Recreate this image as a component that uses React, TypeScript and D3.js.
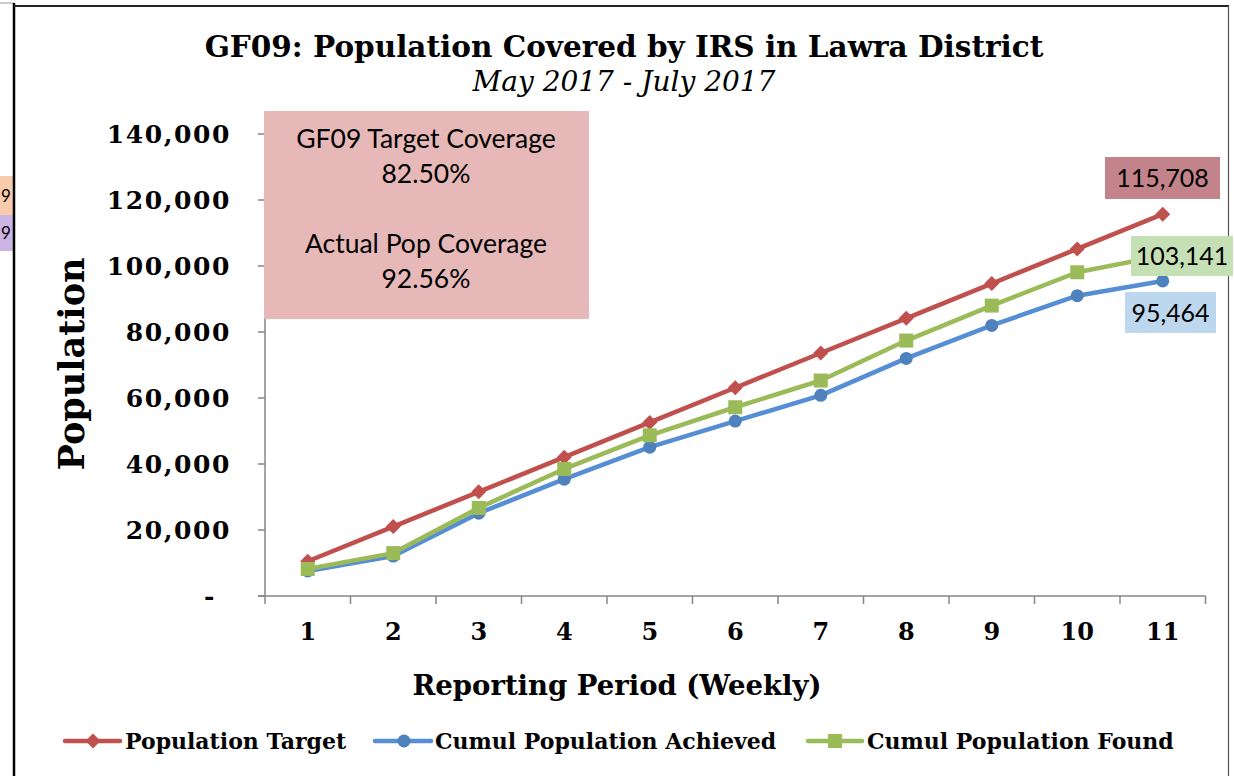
import React from "react";
import * as d3 from "d3";

const categories = ["1", "2", "3", "4", "5", "6", "7", "8", "9", "10", "11"];
const populationTarget = [10519, 21038, 31557, 42076, 52595, 63114, 73632, 84151, 94670, 105189, 115708];
const cumulAchieved = [7600, 12100, 25100, 35400, 45100, 53000, 60800, 72000, 82000, 91000, 95464];
const cumulFound = [8200, 13000, 26700, 38500, 48700, 57200, 65300, 77400, 88000, 98100, 103141];
const yTickValues = [0, 20000, 40000, 60000, 80000, 100000, 120000, 140000];
const seriesNames = ["Population Target", "Cumul Population Achieved", "Cumul Population Found"];
const boxLines = ["GF09 Target Coverage", "82.50%", "", "Actual Pop Coverage", "92.56%"];
const fragmentTexts = ["9", "9"];

const SERIF = "'DejaVu Serif', Georgia, serif";
const SANS = "Lato, 'Open Sans', sans-serif";

const RED = "#C0504D";
const BLUE_LINE = "#558ED5";
const BLUE = "#4F81BD";
const GREEN = "#9BBB59";

function Marker({ kind, x, y, color }: { kind: string; x: number; y: number; color: string }) {
  if (kind === "diamond") {
    const s = 7.5;
    return <path d={`M${x},${y - s}L${x + s},${y}L${x},${y + s}L${x - s},${y}Z`} fill={color} />;
  }
  if (kind === "circle") return <circle cx={x} cy={y} r={6.5} fill={color} />;
  return <rect x={x - 7} y={y - 7} width={14} height={14} fill={color} />;
}

export default function App() {
  const x = d3.scaleBand<string>().domain(categories).range([265, 1205.5]).padding(0);
  const y = d3.scaleLinear().domain([0, 140000]).range([596, 134]);
  const cx = (c: string) => (x(c) as number) + x.bandwidth() / 2;
  const line = d3
    .line<number>()
    .x((_, i) => cx(categories[i]))
    .y((d) => y(d));
  const fmt = d3.format(",");

  const series = [
    { name: seriesNames[0], values: populationTarget, line: RED, marker: RED, kind: "diamond" },
    { name: seriesNames[1], values: cumulAchieved, line: BLUE_LINE, marker: BLUE, kind: "circle" },
    { name: seriesNames[2], values: cumulFound, line: GREEN, marker: GREEN, kind: "square" },
  ];

  const last = categories.length - 1;

  const legend = [
    { x0: 65, x1: 120, mx: 93, tx: 125 },
    { x0: 375, x1: 431, mx: 404, tx: 435 },
    { x0: 808, x1: 862, mx: 835, tx: 867 },
  ];

  const labelBoxes = [
    { v: populationTarget[last], x0: 1105, x1: 1220, y0: 157, y1: 199, fill: "#C3838A" },
    { v: cumulFound[last], x0: 1131, x1: 1233, y0: 236, y1: 276, fill: "#C5E0B4" },
    { v: cumulAchieved[last], x0: 1125, x1: 1216, y0: 292, y1: 333, fill: "#BDD7EE" },
  ];

  return (
    <svg
      width={1234}
      height={776}
      style={{ position: "absolute", left: 0, top: 0, background: "#fff" }}
    >
      {/* left fragments of neighbouring object */}
      <rect x={0} y={176} width={14} height={39} fill="#F8CBAD" />
      <rect x={0} y={215} width={14} height={36} fill="#CCB4E4" />
      <text x={1} y={202} fontFamily={SANS} fontSize={17} fill="#000">{fragmentTexts[0]}</text>
      <text x={1} y={239} fontFamily={SANS} fontSize={17} fill="#000">{fragmentTexts[1]}</text>
      <line x1={0} y1={3} x2={14} y2={3} stroke="#999" strokeWidth={1} />

      {/* chart frame */}
      <line x1={14} y1={3} x2={14} y2={776} stroke="#000" strokeWidth={2.5} />
      <line x1={14} y1={6} x2={1229} y2={6} stroke="#222" strokeWidth={2} />
      <line x1={1228.5} y1={6} x2={1228.5} y2={776} stroke="#555" strokeWidth={1.2} />

      {/* titles */}
      <text x={624} y={57} textAnchor="middle" fontFamily={SERIF} fontWeight="bold" fontSize={29.5} fill="#000">
        GF09: Population Covered by IRS in Lawra District
      </text>
      <text x={624} y={91} textAnchor="middle" fontFamily={SERIF} fontStyle="italic" fontSize={28} fill="#000">
        May 2017 - July 2017
      </text>

      {/* y axis */}
      <line x1={265} y1={134} x2={265} y2={596} stroke="#868686" strokeWidth={1.5} />
      {yTickValues.map((t) => (
        <g key={t}>
          <line x1={258} x2={265} y1={y(t)} y2={y(t)} stroke="#868686" strokeWidth={1.5} />
          <text
            x={t === 0 ? 216 : 231}
            y={y(t)}
            dy="0.35em"
            textAnchor="end"
            fontFamily={SERIF}
            fontWeight="bold"
            fontSize={25}
            letterSpacing={1.6}
            fill="#000"
          >
            {t === 0 ? "-" : fmt(t)}
          </text>
        </g>
      ))}
      <text
        transform={`translate(84,364) rotate(-90)`}
        textAnchor="middle"
        fontFamily={SERIF}
        fontWeight="bold"
        fontSize={35}
        fill="#000"
      >
        Population
      </text>

      {/* x axis */}
      <line x1={258} y1={596} x2={1205.5} y2={596} stroke="#868686" strokeWidth={1.5} />
      {[...categories.map((c) => x(c) as number), 1205.5].map((tx, i) => (
        <line key={i} x1={tx} x2={tx} y1={596} y2={604} stroke="#868686" strokeWidth={1.5} />
      ))}
      {categories.map((c) => (
        <text
          key={c}
          x={cx(c)}
          y={640}
          textAnchor="middle"
          fontFamily={SERIF}
          fontWeight="bold"
          fontSize={24}
          fill="#000"
        >
          {c}
        </text>
      ))}
      <text x={617} y={695} textAnchor="middle" fontFamily={SERIF} fontWeight="bold" fontSize={27.5} fill="#000">
        Reporting Period (Weekly)
      </text>

      {/* series */}
      {series.map((s) => (
        <g key={s.name}>
          <path d={line(s.values) as string} fill="none" stroke={s.line} strokeWidth={4.5} strokeLinejoin="round" strokeLinecap="round" />
          {s.values.map((v, i) => (
            <Marker key={i} kind={s.kind} x={cx(categories[i])} y={y(v)} color={s.marker} />
          ))}
        </g>
      ))}

      {/* text box */}
      <rect x={264} y={111} width={325} height={208} fill="#E6B8B7" />
      {boxLines.map((t, i) =>
        t ? (
          <text key={i} x={426} y={148 + i * 35} textAnchor="middle" fontFamily={SANS} fontSize={26.5} fill="#000">
            {t}
          </text>
        ) : null
      )}

      {/* data labels */}
      {labelBoxes.map((b, i) => (
        <g key={i}>
          <rect x={b.x0} y={b.y0} width={b.x1 - b.x0} height={b.y1 - b.y0} fill={b.fill} />
          <text
            x={(b.x0 + b.x1) / 2}
            y={(b.y0 + b.y1) / 2}
            dy="0.36em"
            textAnchor="middle"
            fontFamily={SANS}
            fontSize={25}
            fill="#000"
          >
            {fmt(b.v)}
          </text>
        </g>
      ))}

      {/* legend */}
      {series.map((s, i) => (
        <g key={s.name}>
          <line x1={legend[i].x0} x2={legend[i].x1} y1={741} y2={741} stroke={s.line} strokeWidth={4.5} strokeLinecap="round" />
          <Marker kind={s.kind} x={legend[i].mx} y={741} color={s.marker} />
          <text x={legend[i].tx} y={749} fontFamily={SERIF} fontWeight="bold" fontSize={22} fill="#000">
            {s.name}
          </text>
        </g>
      ))}
    </svg>
  );
}
